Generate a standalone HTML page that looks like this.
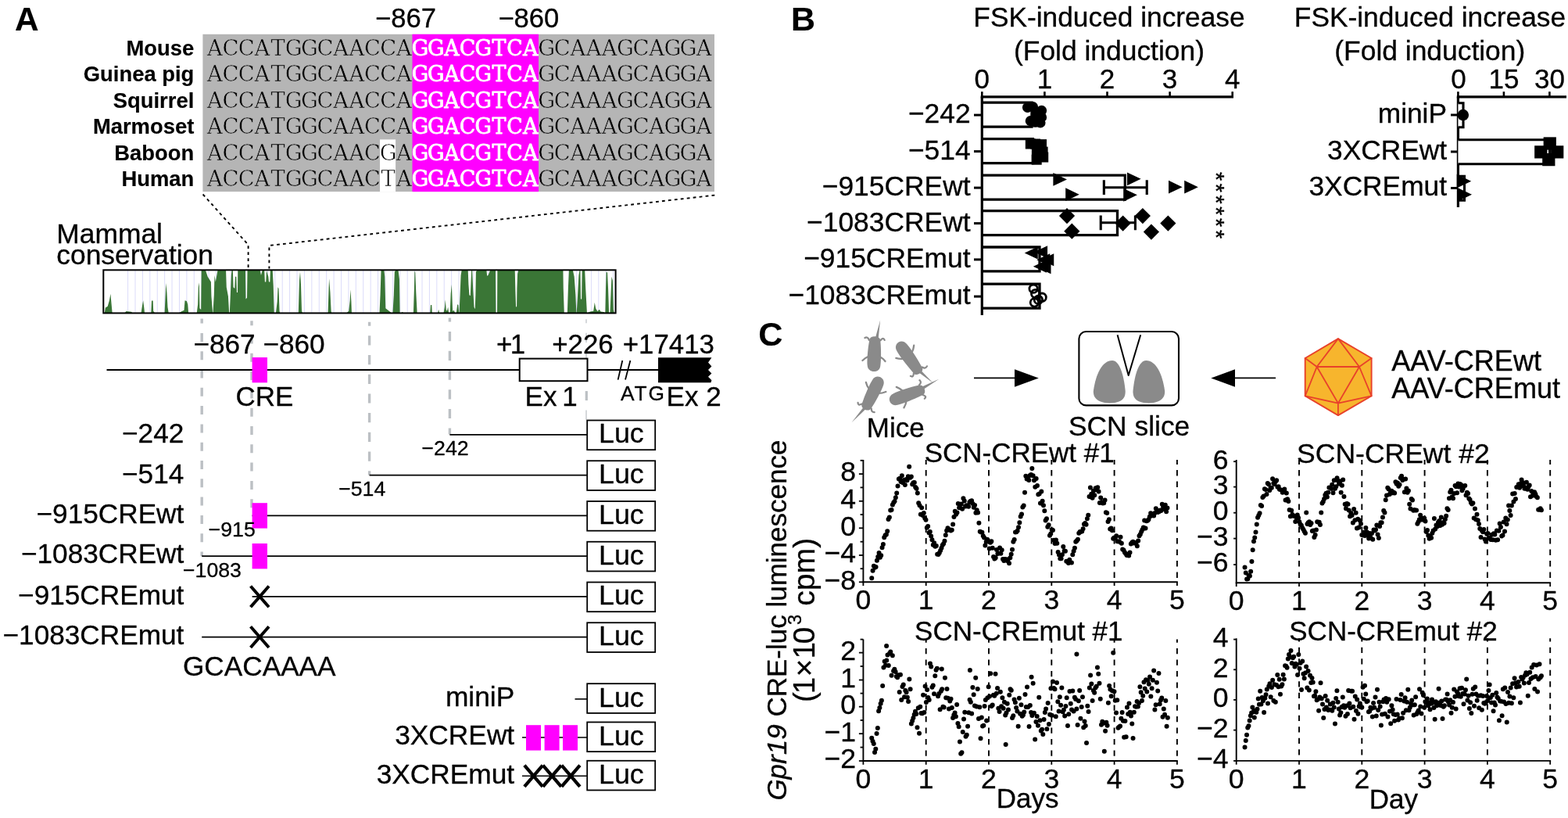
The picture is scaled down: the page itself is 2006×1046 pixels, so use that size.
<!DOCTYPE html>
<html lang="en">
<head>
<meta charset="utf-8">
<title>Gpr19 CRE figure</title>
<style>
html,body{margin:0;padding:0;background:#fff;}
body{width:2006px;height:1046px;overflow:hidden;}
svg{display:block;}
text{font-family:'Liberation Sans', sans-serif;fill:#000;stroke:#000;stroke-width:0.32px;stroke-linejoin:round;}
.b{font-weight:bold;stroke-width:0.15px;}
.i{font-style:italic;}
.m{font-family:'Liberation Mono', monospace;}
.sq text{font-family:'DejaVu Serif','Liberation Serif',serif;stroke:#b5b5b5;stroke-width:0.6px;}
.sq text.sqw{stroke:#fff;}
.sqb text{font-family:'DejaVu Serif','Liberation Serif',serif;fill:#fff;stroke:#fff;stroke-width:0.8px;}
</style>
</head>
<body>
<svg width="2006" height="1046" viewBox="0 0 2006 1046">
<rect width="2006" height="1046" fill="#fff"/>
<g id="panelA">
<text x="18.9" y="38.7" font-size="42.3" class="b">A</text>
<rect x="259.4" y="43.8" width="654.6" height="201.3" fill="#b5b5b5"/>
<rect x="527.5" y="43.8" width="161.5" height="201.3" fill="#ff00ff"/>
<rect x="486" y="178.4" width="20.1" height="66.7" fill="#fff"/>
<text x="480" y="35" font-size="34.6">−867</text>
<text x="637.4" y="35" font-size="34.6">−860</text>
<text x="248.3" y="70.9" font-size="27.4" text-anchor="end" class="b">Mouse</text>
<text x="248.3" y="104.37" font-size="27.4" text-anchor="end" class="b">Guinea pig</text>
<text x="248.3" y="137.84" font-size="27.4" text-anchor="end" class="b">Squirrel</text>
<text x="248.3" y="171.31" font-size="27.4" text-anchor="end" class="b">Marmoset</text>
<text x="248.3" y="204.78" font-size="27.4" text-anchor="end" class="b">Baboon</text>
<text x="248.3" y="238.25" font-size="27.4" text-anchor="end" class="b">Human</text>
<g transform="scale(1 1)" text-anchor="middle" font-size="27.4" class="sq"><text y="70.9" x="274.9 295.06 315.22 335.38 355.54 375.7 395.86 416.02 436.18 456.34 476.5 496.66 516.82">ACCATGGCAACCA</text><text y="70.9" x="699.08 719.24 739.4 759.56 779.72 799.88 820.04 840.2 860.36 880.52 900.68">GCAAAGCAGGA</text><text y="104.37" x="274.9 295.06 315.22 335.38 355.54 375.7 395.86 416.02 436.18 456.34 476.5 496.66 516.82">ACCATGGCAACCA</text><text y="104.37" x="699.08 719.24 739.4 759.56 779.72 799.88 820.04 840.2 860.36 880.52 900.68">GCAAAGCAGGA</text><text y="137.84" x="274.9 295.06 315.22 335.38 355.54 375.7 395.86 416.02 436.18 456.34 476.5 496.66 516.82">ACCATGGCAACCA</text><text y="137.84" x="699.08 719.24 739.4 759.56 779.72 799.88 820.04 840.2 860.36 880.52 900.68">GCAAAGCAGGA</text><text y="171.31" x="274.9 295.06 315.22 335.38 355.54 375.7 395.86 416.02 436.18 456.34 476.5 496.66 516.82">ACCATGGCAACCA</text><text y="171.31" x="699.08 719.24 739.4 759.56 779.72 799.88 820.04 840.2 860.36 880.52 900.68">GCAAAGCAGGA</text><text y="204.78" x="274.9 295.06 315.22 335.38 355.54 375.7 395.86 416.02 436.18 456.34 476.5">ACCATGGCAAC</text><text y="204.78" x="496.66" class="sqw">G</text><text y="204.78" x="516.82">A</text><text y="204.78" x="699.08 719.24 739.4 759.56 779.72 799.88 820.04 840.2 860.36 880.52 900.68">GCAAAGCAGGA</text><text y="238.25" x="274.9 295.06 315.22 335.38 355.54 375.7 395.86 416.02 436.18 456.34 476.5">ACCATGGCAAC</text><text y="238.25" x="496.66" class="sqw">T</text><text y="238.25" x="516.82">A</text><text y="238.25" x="699.08 719.24 739.4 759.56 779.72 799.88 820.04 840.2 860.36 880.52 900.68">GCAAAGCAGGA</text></g>
<g transform="scale(0.98 1)" text-anchor="middle" font-size="27.4" class="sqb"><text y="70.9" x="548.55 569.12 589.69 610.27 630.84 651.41 671.98 692.55">GGACGTCA</text><text y="104.37" x="548.55 569.12 589.69 610.27 630.84 651.41 671.98 692.55">GGACGTCA</text><text y="137.84" x="548.55 569.12 589.69 610.27 630.84 651.41 671.98 692.55">GGACGTCA</text><text y="171.31" x="548.55 569.12 589.69 610.27 630.84 651.41 671.98 692.55">GGACGTCA</text><text y="204.78" x="548.55 569.12 589.69 610.27 630.84 651.41 671.98 692.55">GGACGTCA</text><text y="238.25" x="548.55 569.12 589.69 610.27 630.84 651.41 671.98 692.55">GGACGTCA</text></g>
<path d="M259.6 248.5 L317.6 313 V343.5" fill="none" stroke="#000" stroke-width="1.9" stroke-dasharray="3.8 4.2"/>
<path d="M914.3 249.6 L344.4 314 V343.5" fill="none" stroke="#000" stroke-width="1.9" stroke-dasharray="3.8 4.2"/>
<text x="72.3" y="311" font-size="35.4">Mammal</text>
<text x="72.3" y="337.8" font-size="35.4">conservation</text>
<rect x="132.3" y="345.3" width="655.3" height="55.1" fill="#fff"/>
<path d="M163.6 345.3V400.4M173.01 345.3V400.4M182.42 345.3V400.4M191.83 345.3V400.4M201.24 345.3V400.4M210.65 345.3V400.4M220.06 345.3V400.4M229.47 345.3V400.4M238.88 345.3V400.4M248.29 345.3V400.4M257.7 345.3V400.4M267.11 345.3V400.4M276.52 345.3V400.4M285.93 345.3V400.4M295.34 345.3V400.4M304.75 345.3V400.4M314.16 345.3V400.4M323.57 345.3V400.4M332.98 345.3V400.4M342.39 345.3V400.4M351.8 345.3V400.4M361.21 345.3V400.4M370.62 345.3V400.4M380.03 345.3V400.4M389.44 345.3V400.4M398.85 345.3V400.4M408.26 345.3V400.4M417.67 345.3V400.4M427.08 345.3V400.4M436.49 345.3V400.4M445.9 345.3V400.4M455.31 345.3V400.4M464.72 345.3V400.4M474.13 345.3V400.4M483.54 345.3V400.4M492.95 345.3V400.4M502.36 345.3V400.4M511.77 345.3V400.4M521.18 345.3V400.4M530.59 345.3V400.4M540 345.3V400.4M549.41 345.3V400.4M558.82 345.3V400.4M568.23 345.3V400.4M577.64 345.3V400.4M587.05 345.3V400.4M596.46 345.3V400.4M605.87 345.3V400.4M615.28 345.3V400.4M624.69 345.3V400.4M634.1 345.3V400.4M643.51 345.3V400.4M652.92 345.3V400.4M662.33 345.3V400.4M671.74 345.3V400.4M681.15 345.3V400.4M690.56 345.3V400.4M699.97 345.3V400.4M709.38 345.3V400.4M718.79 345.3V400.4M728.2 345.3V400.4M737.61 345.3V400.4M747.02 345.3V400.4M756.43 345.3V400.4M765.84 345.3V400.4M775.25 345.3V400.4M784.66 345.3V400.4" stroke="#dcdcfa" stroke-width="1" fill="none"/>
<path d="M133.81 399.92L134.83 393.47L137.71 391.78L139.92 384.15L141.44 375.68L142.63 389.24L143.64 399.92ZM159.75 399.92L161.44 398.05L168.22 398.73L169.07 399.92ZM180.59 399.92L181.95 390.93L183.14 384.15L184.32 393.47L185 399.92ZM193.31 399.92L193.98 384.49L195.68 384.49L196.19 397.71L197.88 399.92ZM210.59 399.92L211.78 373.98L212.29 362.12L213.47 373.98L214.49 392.63L215.68 399.92ZM229.24 399.92L232.63 398.05L235.51 396.86L236.53 384.15L238.9 385L240.25 389.24L241.1 399.92ZM251.78 399.92L253.14 389.24L253.81 367.2L254.83 361.27L255.51 394.32L257.2 396.02L257.71 346.02L263.14 346.02L265.68 353.64L269.92 360.42L270.42 379.07L272.12 399.92ZM272.46 399.92L273.81 377.37L274.49 351.95L275.85 360.42L277.03 353.64L278.39 346.02L289.07 346.02L289.75 367.2L291.95 379.07L293.14 399.92ZM293.81 399.92L294.83 377.37L295.85 351.95L296.53 346.02L297.88 346.02L298.56 367.2L300.25 368.9L300.93 353.64L302.29 353.64L302.97 373.98L303.98 373.98L304.32 346.02L313.98 346.02L314.49 382.46L316.02 380.76L316.53 346.02L332.8 346.02L333.98 351.95L335.51 346.02L338.22 346.02L338.9 360.42L340.25 360.42L340.93 346.02L343.31 353.64L343.98 360.42L345.34 360.42L345.85 346.02L348.73 346.02L349.75 365.51L350.76 399.92ZM352.97 399.92L354.66 385.85L355.51 367.2L356.53 368.9L357.54 397.71L358.05 399.92ZM381.78 399.92L382.97 358.73L383.98 347.71L385 363.81L386.02 397.71L386.86 399.92ZM419.58 399.92L420.59 368.9L421.1 356.19L422.46 373.98L423.64 397.71L424.15 399.92ZM443.64 399.92L446.19 397.71L447.71 384.15L448.39 370.25L449.41 385.85L449.92 399.92ZM485.51 399.92L486.53 377.37L487.54 346.02L491.44 346.02L492.29 353.64L493.31 394.32L496.53 396.86L499.41 399.07L500.42 399.92ZM502.46 399.92L503.81 377.37L504.83 347.71L505.85 346.02L509.58 346.02L510.93 357.03L511.61 399.92ZM513.47 399.92L514.66 398.73L516.02 399.92ZM528.9 399.92L529.92 368.9L530.42 346.86L531.27 348.56L532.29 373.98L533.64 399.92ZM550.25 399.92L550.93 390.08L552.29 390.08L552.8 399.92ZM560.08 399.92L561.1 395.68L562.12 399.92ZM567.54 399.92L568.9 392.63L569.75 383.31L570.76 396.02L571.95 397.71L573.14 392.63L574.15 399.92ZM575.68 399.92L576.69 375.68L577.88 363.81L579.07 397.71L580.76 396.86L582.12 399.92ZM583.81 399.92L585.17 389.24L586.36 390.08L587.2 399.92ZM587.54 399.92L588.56 377.37L589.58 351.95L590.59 346.02L598.73 346.02L599.41 363.81L600.42 377.37L601.78 378.22L602.46 362.12L603.14 346.02L604.15 346.02L605.17 368.9L606.53 392.63L607.71 395.17L608.39 377.37L608.9 347.71L609.92 346.02L622.46 346.02L623.14 352.8L624.49 351.95L626.19 347.71L626.86 346.02L633.98 346.02L634.49 399.92L636.02 399.92L636.36 346.02L658.73 346.02L659.41 372.29L660.08 392.63L661.1 391.78L661.44 368.9L662.12 350.25L663.14 346.02L720.42 346.02L720.76 368.9L721.78 399.92ZM725.85 399.92L726.86 368.9L727.88 346.02L732.97 346.02L734.66 353.64L736.36 377.37L737.37 399.92ZM737.71 399.92L739.07 377.37L740.42 351.95L741.44 346.02L742.46 346.02L742.97 382.46L744.15 382.46L744.66 346.02L748.22 346.02L749.24 368.9L750.93 399.92ZM751.61 399.92L755 398.56L759.24 397.71L760.76 386.69L762.12 394.32L764.32 398.05L766.86 395.68L768.56 398.56L772.8 399.07L773.64 399.92ZM774.32 399.92L775 368.9L775.68 347.71L777.03 348.56L778.05 368.9L779.07 399.92ZM780.42 399.92L781.44 377.37L782.46 353.64L783.81 358.73L784.83 396.02L785.85 399.92Z" fill="#3a7636"/>
<rect x="132.3" y="345.3" width="655.3" height="55.1" fill="none" stroke="#000" stroke-width="2"/>
<line x1="258.2" y1="407.6" x2="258.2" y2="711" stroke="#bcc0c4" stroke-width="3.4" stroke-dasharray="11 12.3" stroke-dashoffset="5"/>
<line x1="322" y1="410.2" x2="322" y2="660" stroke="#bcc0c4" stroke-width="3.4" stroke-dasharray="11 12.3" stroke-dashoffset="5"/>
<line x1="472.6" y1="411.8" x2="472.6" y2="607.5" stroke="#bcc0c4" stroke-width="3.4" stroke-dasharray="12.2 12.5" stroke-dashoffset="7.2"/>
<line x1="575.4" y1="406.6" x2="575.4" y2="555.5" stroke="#bcc0c4" stroke-width="3.4" stroke-dasharray="12.2 12.5" stroke-dashoffset="7.2"/>
<line x1="750" y1="408.3" x2="750" y2="537" stroke="#c4c8cc" stroke-width="1.4" stroke-dasharray="12.2 12.5" stroke-dashoffset="7.2"/>
<line x1="750.3" y1="500.1" x2="750.3" y2="512.1" stroke="#bcc0c4" stroke-width="3.2"/>
<line x1="136.5" y1="473" x2="842" y2="473" stroke="#000" stroke-width="1.8"/>
<rect x="322.6" y="457" width="19.4" height="32.3" fill="#ff00ff"/>
<text x="247.4" y="451.5" font-size="35.2">−867</text>
<text x="336.4" y="451.5" font-size="35.2">−860</text>
<text x="301.5" y="518.8" font-size="35">CRE</text>
<text x="635" y="452" font-size="34.8">+<tspan dx="-2.5">1</tspan></text>
<text x="706.3" y="452" font-size="34.8">+226</text>
<text x="796.8" y="452" font-size="34.8">+17413</text>
<rect x="664.7" y="458.6" width="86.8" height="28.6" fill="#fff" stroke="#000" stroke-width="2"/>
<line x1="796.3" y1="461" x2="790.6" y2="485.6" stroke="#000" stroke-width="1.8"/>
<line x1="806.4" y1="461" x2="800" y2="485.6" stroke="#000" stroke-width="1.8"/>
<path d="M842 457.2H910.4L906 463.6L910.4 468.6L906 473L910.4 477.4L906 481.8L910.4 486.2L909.4 489.2H842Z" fill="#000"/>
<text x="671.6" y="518.8" font-size="35">Ex <tspan dx="-3">1</tspan></text>
<text x="794" y="511.9" font-size="26.3" letter-spacing="1.9">ATG</text>
<text x="852.6" y="518.8" font-size="35">Ex 2</text>
<text x="235.3" y="566.3" font-size="35.2" text-anchor="end">−242</text>
<line x1="575.4" y1="555.9" x2="751" y2="555.9" stroke="#000" stroke-width="1.7"/>
<rect x="751.2" y="537.5" width="87" height="37.7" fill="#fff" stroke="#000" stroke-width="1.8"/>
<text x="794.9" y="566.35" font-size="35.8" text-anchor="middle">Luc</text>
<text x="235.3" y="617.8" font-size="35.2" text-anchor="end">−514</text>
<line x1="472.6" y1="607.65" x2="751" y2="607.65" stroke="#000" stroke-width="1.7"/>
<rect x="751.2" y="589.25" width="87" height="37.7" fill="#fff" stroke="#000" stroke-width="1.8"/>
<text x="794.9" y="618.1" font-size="35.8" text-anchor="middle">Luc</text>
<text x="235.3" y="668.5" font-size="35.2" text-anchor="end">−915CREwt</text>
<line x1="322.6" y1="659.4" x2="751" y2="659.4" stroke="#000" stroke-width="1.7"/>
<rect x="751.2" y="641" width="87" height="37.7" fill="#fff" stroke="#000" stroke-width="1.8"/>
<text x="794.9" y="669.85" font-size="35.8" text-anchor="middle">Luc</text>
<rect x="322.6" y="643.2" width="19.4" height="32.4" fill="#ff00ff"/>
<text x="235.3" y="719.9" font-size="35.2" text-anchor="end">−1083CREwt</text>
<line x1="258.2" y1="711.15" x2="751" y2="711.15" stroke="#000" stroke-width="1.7"/>
<rect x="751.2" y="692.75" width="87" height="37.7" fill="#fff" stroke="#000" stroke-width="1.8"/>
<text x="794.9" y="721.6" font-size="35.8" text-anchor="middle">Luc</text>
<rect x="322.6" y="694.95" width="19.4" height="32.4" fill="#ff00ff"/>
<text x="235.3" y="773.1" font-size="35.2" text-anchor="end">−915CREmut</text>
<line x1="322.6" y1="762.9" x2="751" y2="762.9" stroke="#000" stroke-width="1.7"/>
<rect x="751.2" y="744.5" width="87" height="37.7" fill="#fff" stroke="#000" stroke-width="1.8"/>
<text x="794.9" y="773.35" font-size="35.8" text-anchor="middle">Luc</text>
<path d="M320.6 749.5 L344 776.3 M344 749.5 L320.6 776.3" stroke="#000" stroke-width="4" fill="none"/>
<text x="235.3" y="823.8" font-size="35.2" text-anchor="end">−1083CREmut</text>
<line x1="258.2" y1="814.65" x2="751" y2="814.65" stroke="#000" stroke-width="1.7"/>
<rect x="751.2" y="796.25" width="87" height="37.7" fill="#fff" stroke="#000" stroke-width="1.8"/>
<text x="794.9" y="825.1" font-size="35.8" text-anchor="middle">Luc</text>
<path d="M320.6 801.25 L344 828.05 M344 801.25 L320.6 828.05" stroke="#000" stroke-width="4" fill="none"/>
<text x="539.5" y="582.3" font-size="26.7">−242</text>
<text x="433.2" y="633.5" font-size="26.7">−514</text>
<text x="266.7" y="685.6" font-size="26.7">−915</text>
<text x="234" y="737.8" font-size="26.7">−1083</text>
<text x="234" y="863.8" font-size="35.2">GCACAAAA</text>
<text x="658.2" y="902.95" font-size="35.3" text-anchor="end">miniP</text>
<rect x="751.2" y="874.2" width="87" height="37.7" fill="#fff" stroke="#000" stroke-width="1.8"/>
<text x="794.9" y="903.85" font-size="35.8" text-anchor="middle">Luc</text>
<text x="658.2" y="952.2" font-size="35.3" text-anchor="end">3XCREwt</text>
<rect x="751.2" y="923.45" width="87" height="37.7" fill="#fff" stroke="#000" stroke-width="1.8"/>
<text x="794.9" y="953.1" font-size="35.8" text-anchor="middle">Luc</text>
<text x="658.2" y="1001.5" font-size="35.3" text-anchor="end">3XCREmut</text>
<rect x="751.2" y="972.75" width="87" height="37.7" fill="#fff" stroke="#000" stroke-width="1.8"/>
<text x="794.9" y="1002.4" font-size="35.8" text-anchor="middle">Luc</text>
<line x1="735.5" y1="893.9" x2="751" y2="893.9" stroke="#000" stroke-width="1.6"/>
<line x1="668" y1="943" x2="751" y2="943" stroke="#000" stroke-width="1.6"/>
<line x1="668" y1="992.2" x2="751" y2="992.2" stroke="#000" stroke-width="1.6"/>
<rect x="673" y="927.2" width="19" height="32.4" fill="#ff00ff"/>
<rect x="696.6" y="927.2" width="19" height="32.4" fill="#ff00ff"/>
<rect x="720" y="927.2" width="19" height="32.4" fill="#ff00ff"/>
<path d="M670.9 978.6 L694.3 1005.8 M694.3 978.6 L670.9 1005.8" stroke="#000" stroke-width="4.3" fill="none"/>
<path d="M694.6 978.6 L718 1005.8 M718 978.6 L694.6 1005.8" stroke="#000" stroke-width="4.3" fill="none"/>
<path d="M718.5 978.6 L741.9 1005.8 M741.9 978.6 L718.5 1005.8" stroke="#000" stroke-width="4.3" fill="none"/>
</g>
<g id="panelB">
<text x="1012.1" y="38.7" font-size="42.9" class="b">B</text>
<text x="1419" y="33.5" font-size="35.3" text-anchor="middle">FSK-induced increase</text>
<text x="1419" y="76.8" font-size="35.4" text-anchor="middle">(Fold induction)</text>
<text x="1256.3" y="112.6" font-size="35" text-anchor="middle">0</text>
<line x1="1256.3" y1="117.2" x2="1256.3" y2="123.8" stroke="#000" stroke-width="2.6"/>
<text x="1336.4" y="112.6" font-size="35" text-anchor="middle">1</text>
<line x1="1336.4" y1="117.2" x2="1336.4" y2="123.8" stroke="#000" stroke-width="2.6"/>
<text x="1416.5" y="112.6" font-size="35" text-anchor="middle">2</text>
<line x1="1416.5" y1="117.2" x2="1416.5" y2="123.8" stroke="#000" stroke-width="2.6"/>
<text x="1496.6" y="112.6" font-size="35" text-anchor="middle">3</text>
<line x1="1496.6" y1="117.2" x2="1496.6" y2="123.8" stroke="#000" stroke-width="2.6"/>
<text x="1576.7" y="112.6" font-size="35" text-anchor="middle">4</text>
<line x1="1576.7" y1="117.2" x2="1576.7" y2="123.8" stroke="#000" stroke-width="2.6"/>
<line x1="1254.7" y1="123.8" x2="1578" y2="123.8" stroke="#000" stroke-width="3.2"/>
<line x1="1256.3" y1="123.8" x2="1256.3" y2="403" stroke="#000" stroke-width="3.2"/>
<text x="1241.6" y="157" font-size="35.4" text-anchor="end">−242</text>
<line x1="1246" y1="147.1" x2="1256.3" y2="147.1" stroke="#000" stroke-width="3"/>
<path d="M1256.3 131.2H1320V162.1H1256.3" fill="none" stroke="#000" stroke-width="3.3"/>
<text x="1241.6" y="203.5" font-size="35.4" text-anchor="end">−514</text>
<line x1="1246" y1="193.6" x2="1256.3" y2="193.6" stroke="#000" stroke-width="3"/>
<path d="M1256.3 177.7H1321.5V208.6H1256.3" fill="none" stroke="#000" stroke-width="3.3"/>
<text x="1241.6" y="250" font-size="35.4" text-anchor="end">−915CREwt</text>
<line x1="1246" y1="240.1" x2="1256.3" y2="240.1" stroke="#000" stroke-width="3"/>
<path d="M1256.3 224.2H1439.3V255.1H1256.3" fill="none" stroke="#000" stroke-width="3.3"/>
<text x="1241.6" y="295.5" font-size="35.4" text-anchor="end">−1083CREwt</text>
<line x1="1246" y1="285.6" x2="1256.3" y2="285.6" stroke="#000" stroke-width="3"/>
<path d="M1256.3 269.7H1429.5V300.6H1256.3" fill="none" stroke="#000" stroke-width="3.3"/>
<text x="1241.6" y="341.8" font-size="35.4" text-anchor="end">−915CREmut</text>
<line x1="1246" y1="331.9" x2="1256.3" y2="331.9" stroke="#000" stroke-width="3"/>
<path d="M1256.3 316H1330V346.9H1256.3" fill="none" stroke="#000" stroke-width="3.3"/>
<text x="1241.6" y="389" font-size="35.4" text-anchor="end">−1083CREmut</text>
<line x1="1246" y1="379.1" x2="1256.3" y2="379.1" stroke="#000" stroke-width="3"/>
<path d="M1256.3 363.2H1330V394.1H1256.3" fill="none" stroke="#000" stroke-width="3.3"/>
<path d="M1412.33 239.7H1467.22M1412.33 230.3V249.1M1467.22 230.3V249.1" fill="none" stroke="#000" stroke-width="3.1"/>
<path d="M1408.23 284.8H1452.4M1408.23 275.4V294.2M1452.4 275.4V294.2" fill="none" stroke="#000" stroke-width="3.1"/>
<circle cx="1314.54" cy="137.32" r="6.6"/>
<circle cx="1321.48" cy="136.69" r="6.6"/>
<circle cx="1332.52" cy="141.42" r="6.6"/>
<circle cx="1332.52" cy="149.94" r="6.6"/>
<circle cx="1318.33" cy="154.67" r="6.6"/>
<circle cx="1324.64" cy="156.25" r="6.6"/>
<circle cx="1330.95" cy="156.88" r="6.6"/>
<circle cx="1325.27" cy="146.78" r="6.6"/>
<rect x="1311.83" y="177.51" width="13" height="13"/>
<rect x="1318.14" y="177.51" width="13" height="13"/>
<rect x="1326.02" y="178.14" width="13" height="13"/>
<rect x="1327.6" y="187.6" width="13" height="13"/>
<rect x="1321.29" y="193.91" width="13" height="13"/>
<rect x="1328.23" y="194.54" width="13" height="13"/>
<rect x="1319.71" y="197.7" width="13" height="13"/>
<rect x="1321.92" y="186.97" width="13" height="13"/>
<path d="M1347.38 221.03L1364.98 229.43L1347.38 237.83Z"/>
<path d="M1363.16 240.28L1380.76 248.68L1363.16 257.08Z"/>
<path d="M1442.02 220.4L1459.62 228.8L1442.02 237.2Z"/>
<path d="M1437.29 240.91L1454.89 249.31L1437.29 257.71Z"/>
<path d="M1495.02 230.81L1512.62 239.21L1495.02 247.61Z"/>
<path d="M1515.21 230.81L1532.81 239.21L1515.21 247.61Z"/>
<path d="M1365.02 266.02L1375.12 276.12L1365.02 286.22L1354.92 276.12Z"/>
<path d="M1371.32 285.58L1381.42 295.68L1371.32 305.78L1361.22 295.68Z"/>
<path d="M1436.62 275.48L1446.72 285.58L1436.62 295.68L1426.52 285.58Z"/>
<path d="M1461.86 266.02L1471.96 276.12L1461.86 286.22L1451.76 276.12Z"/>
<path d="M1472.9 286.52L1483 296.62L1472.9 306.72L1462.8 296.62Z"/>
<path d="M1494.35 275.48L1504.45 285.58L1494.35 295.68L1484.25 285.58Z"/>
<path d="M1327.77 315.44L1310.77 323.44L1327.77 331.44Z"/>
<path d="M1340.08 314.18L1323.08 322.18L1340.08 330.18Z"/>
<path d="M1343.23 324.27L1326.23 332.27L1343.23 340.27Z"/>
<path d="M1348.28 324.27L1331.28 332.27L1348.28 340.27Z"/>
<path d="M1338.82 332.79L1321.82 340.79L1338.82 348.79Z"/>
<path d="M1344.49 334.37L1327.49 342.37L1344.49 350.37Z"/>
<circle cx="1322.11" cy="369.18" r="5.2" fill="none" stroke="#000" stroke-width="2.8"/>
<circle cx="1324.64" cy="375.49" r="5.2" fill="none" stroke="#000" stroke-width="2.8"/>
<circle cx="1333.15" cy="380.22" r="5.2" fill="none" stroke="#000" stroke-width="2.8"/>
<circle cx="1323.38" cy="386.85" r="5.2" fill="none" stroke="#000" stroke-width="2.8"/>
<circle cx="1328.42" cy="383.38" r="5.2" fill="none" stroke="#000" stroke-width="2.8"/>
<text font-size="29.5" text-anchor="middle" transform="translate(1546.2 262.4) rotate(90)" textLength="85.5" lengthAdjust="spacing">******</text>
<text x="1829.5" y="33.5" font-size="35.3" text-anchor="middle">FSK-induced increase</text>
<text x="1829.3" y="76.8" font-size="35.4" text-anchor="middle">(Fold induction)</text>
<text x="1865.9" y="112.6" font-size="35" text-anchor="middle">0</text>
<line x1="1865.4" y1="117.2" x2="1865.4" y2="123.8" stroke="#000" stroke-width="2.6"/>
<text x="1923.9" y="112.6" font-size="35" text-anchor="middle">15</text>
<line x1="1923.9" y1="117.2" x2="1923.9" y2="123.8" stroke="#000" stroke-width="2.6"/>
<text x="1982.4" y="112.6" font-size="35" text-anchor="middle">30</text>
<line x1="1982.4" y1="117.2" x2="1982.4" y2="123.8" stroke="#000" stroke-width="2.6"/>
<line x1="1863.8" y1="123.8" x2="2004" y2="123.8" stroke="#000" stroke-width="3.2"/>
<line x1="1865.4" y1="123.8" x2="1865.4" y2="265" stroke="#000" stroke-width="3.2"/>
<text x="1851" y="156.6" font-size="35.3" text-anchor="end">miniP</text>
<line x1="1856" y1="147" x2="1865.4" y2="147" stroke="#000" stroke-width="3"/>
<path d="M1865.4 131.7H1872V162.8H1865.4" fill="#fff" stroke="#000" stroke-width="3.1"/>
<text x="1851" y="203.6" font-size="35.3" text-anchor="end">3XCREwt</text>
<line x1="1856" y1="194" x2="1865.4" y2="194" stroke="#000" stroke-width="3"/>
<path d="M1865.4 178.7H1982.5V209.8H1865.4" fill="#fff" stroke="#000" stroke-width="3.1"/>
<text x="1851" y="250.1" font-size="35.3" text-anchor="end">3XCREmut</text>
<line x1="1856" y1="240.5" x2="1865.4" y2="240.5" stroke="#000" stroke-width="3"/>
<path d="M1865.4 225.2H1873.5V256.3H1865.4" fill="#fff" stroke="#000" stroke-width="3.1"/>
<circle cx="1871.79" cy="147.08" r="7.26"/>
<rect x="1974.62" y="175.36" width="16.25" height="16.25"/>
<rect x="1963.15" y="186.26" width="16.25" height="16.25"/>
<rect x="1984.08" y="186.26" width="16.25" height="16.25"/>
<rect x="1973.18" y="196" width="16.25" height="16.25"/>
<path d="M1863.7 222.83L1882.18 231.65L1863.7 240.47Z"/>
<path d="M1864.56 240.03L1883.04 248.85L1864.56 257.67Z"/>
</g>
<g id="panelC">
<text x="970.3" y="441.6" font-size="43.2" class="b">C</text>
<g transform="translate(1118.5 453.2) rotate(2)" fill="#8a8a8a"><path d="M-6.81 -18.25C-6.64 -24.45 6.64 -24.45 7.14 -18.25C8.72 -6.97 9.13 9.3 8.3 14.41C7.47 24.41 -7.47 24.41 -8.3 14.41C-9.13 9.3 -8.72 -6.97 -6.81 -18.25Z"/><path d="M0.5 -20.75L6.1 -43.97L4.5 -20.75Z"/><path d="M-7.3 -18.25Q-9.3 -22.75 -12.8 -20.75M7.3 -18.25Q10.8 -22.75 12.5 -18.75M-7.3 2.79Q-11.3 4.65 -14.8 8.37M7.3 2.79Q11.3 4.65 14.3 8.37" fill="none" stroke="#8a8a8a" stroke-width="2.3" stroke-linecap="round"/></g>
<g transform="translate(1162.8 457.2) rotate(144.5)" fill="#8a8a8a"><path d="M-6.4 -20C-6.24 -26.2 6.24 -26.2 6.71 -20C8.19 -7.5 8.58 10 7.8 15.5C7.02 26.25 -7.02 26.25 -7.8 15.5C-8.58 10 -8.19 -7.5 -6.4 -20Z"/><path d="M-3 -22.5L-6.32 -44.35L1 -22.5Z"/><path d="M-6.8 -20Q-8.8 -24.5 -12.3 -22.5M6.8 -20Q10.3 -24.5 12 -20.5M-6.8 3Q-10.8 5 -14.3 9M6.8 3Q10.8 5 13.8 9" fill="none" stroke="#8a8a8a" stroke-width="2.3" stroke-linecap="round"/></g>
<g transform="translate(1116.7 502.6) rotate(205.5)" fill="#8a8a8a"><path d="M-6.4 -18.75C-6.24 -24.95 6.24 -24.95 6.71 -18.75C8.19 -7.12 8.58 9.5 7.8 14.72C7.02 24.94 -7.02 24.94 -7.8 14.72C-8.58 9.5 -8.19 -7.12 -6.4 -18.75Z"/><path d="M-1 -21.25L8.31 -45.66L3 -21.25Z"/><path d="M-6.8 -18.75Q-8.8 -23.25 -12.3 -21.25M6.8 -18.75Q10.3 -23.25 12 -19.25M-6.8 2.85Q-10.8 4.75 -14.3 8.55M6.8 2.85Q10.8 4.75 13.8 8.55" fill="none" stroke="#8a8a8a" stroke-width="2.3" stroke-linecap="round"/></g>
<g transform="translate(1160 505.3) rotate(70)" fill="#8a8a8a"><path d="M-6.4 -19.5C-6.24 -25.7 6.24 -25.7 6.71 -19.5C8.19 -7.35 8.58 9.8 7.8 15.19C7.02 25.73 -7.02 25.73 -7.8 15.19C-8.58 9.8 -8.19 -7.35 -6.4 -19.5Z"/><path d="M-3.5 -22L-5.18 -45.71L0.5 -22Z"/><path d="M-6.8 -19.5Q-8.8 -24 -12.3 -22M6.8 -19.5Q10.3 -24 12 -20M-6.8 2.94Q-10.8 4.9 -14.3 8.82M6.8 2.94Q10.8 4.9 13.8 8.82" fill="none" stroke="#8a8a8a" stroke-width="2.3" stroke-linecap="round"/></g>
<text x="1145.8" y="558.7" font-size="35" text-anchor="middle">Mice</text>
<line x1="1246" y1="483.4" x2="1300" y2="483.4" stroke="#000" stroke-width="1.6"/>
<path d="M1298 472.2L1328.8 483.4L1298 494.7Z"/>
<line x1="1579" y1="483.4" x2="1632" y2="483.4" stroke="#000" stroke-width="1.6"/>
<path d="M1580 472.2L1549.3 483.4L1580 494.7Z"/>
<rect x="1380.4" y="424" width="127.6" height="94.4" fill="#fff" stroke="#000" stroke-width="2.1" rx="9" ry="9"/>
<path d="M1429.6 428.3L1443.7 480L1459.2 428.3" fill="none" stroke="#000" stroke-width="2" stroke-linejoin="round"/>
<path d="M1423 461C1432.13 461 1437.61 479 1439.6 499C1440.6 509.4 1434.62 515.4 1419.3 515.4C1406.2 515.4 1397.56 509.4 1399 499C1401.88 479 1409.8 461 1423 461Z" fill="#8a8a8a"/>
<path d="M1466.2 461C1479.29 461 1487.14 479 1490 499C1491.43 509.4 1482.86 515.4 1469.8 515.4C1454.58 515.4 1448.6 509.4 1449.6 499C1451.59 479 1457.07 461 1466.2 461Z" fill="#8a8a8a"/>
<text x="1444.6" y="556.6" font-size="35.4" text-anchor="middle">SCN slice</text>
<path d="M1711.9 433.1L1754.6 458L1754.6 506.3L1711.9 531.1L1669.7 506.3L1669.7 458Z" fill="#f7b52d" stroke="#e8412a" stroke-width="1.9" stroke-linejoin="round"/>
<path d="M1711.9 433.1L1684.7 469M1711.9 433.1L1739 469M1684.7 469L1739 469M1669.7 458L1684.7 469M1754.6 458L1739 469M1684.7 469L1669.7 506.3M1739 469L1754.6 506.3M1684.7 469L1711.9 515.6M1739 469L1711.9 515.6M1669.7 506.3L1711.9 515.6M1754.6 506.3L1711.9 515.6M1711.9 515.6L1711.9 531.1" fill="none" stroke="#e8412a" stroke-width="1.8" stroke-linecap="round"/>
<text x="1780.2" y="473.8" font-size="36.1">AAV-CREwt</text>
<text x="1780.2" y="509.2" font-size="36.1">AAV-CREmut</text>
<text font-size="35" text-anchor="middle" transform="translate(1006.3 793.1) rotate(-90)"><tspan class="i">Gpr19</tspan> CRE-luc luminescence</text>
<text transform="translate(1042.3 898) rotate(-90)" font-size="38.6" text-anchor="middle"><tspan x="6.4 21.4 44 66.2 85.6">(1×10</tspan><tspan x="105.7" y="-17" font-size="23.6">3</tspan><tspan x="112.3" y="0" font-size="39.2" text-anchor="start"> cpm)</tspan></text>
<path d="M1184.7 588V744.3M1265 588V744.3M1345.3 588V744.3M1425.6 588V744.3M1505.9 588V744.3" stroke="#000" stroke-width="1.9" stroke-dasharray="7.4 7.1" stroke-dashoffset="1.4" fill="none"/>
<line x1="1104.4" y1="588" x2="1104.4" y2="745.2" stroke="#000" stroke-width="1.9"/>
<line x1="1103.5" y1="744.3" x2="1506.8" y2="744.3" stroke="#000" stroke-width="1.9"/>
<line x1="1104.4" y1="744.3" x2="1104.4" y2="749.1" stroke="#000" stroke-width="1.8"/>
<text x="1104.4" y="779.3" font-size="35.6" text-anchor="middle">0</text>
<line x1="1184.7" y1="744.3" x2="1184.7" y2="749.1" stroke="#000" stroke-width="1.8"/>
<text x="1184.7" y="779.3" font-size="35.6" text-anchor="middle">1</text>
<line x1="1265" y1="744.3" x2="1265" y2="749.1" stroke="#000" stroke-width="1.8"/>
<text x="1265" y="779.3" font-size="35.6" text-anchor="middle">2</text>
<line x1="1345.3" y1="744.3" x2="1345.3" y2="749.1" stroke="#000" stroke-width="1.8"/>
<text x="1345.3" y="779.3" font-size="35.6" text-anchor="middle">3</text>
<line x1="1425.6" y1="744.3" x2="1425.6" y2="749.1" stroke="#000" stroke-width="1.8"/>
<text x="1425.6" y="779.3" font-size="35.6" text-anchor="middle">4</text>
<line x1="1505.9" y1="744.3" x2="1505.9" y2="749.1" stroke="#000" stroke-width="1.8"/>
<text x="1505.9" y="779.3" font-size="35.6" text-anchor="middle">5</text>
<line x1="1098.9" y1="606.1" x2="1104.4" y2="606.1" stroke="#000" stroke-width="1.8"/>
<text x="1095.1" y="615.4" font-size="35.6" text-anchor="end">8</text>
<line x1="1098.9" y1="640.8" x2="1104.4" y2="640.8" stroke="#000" stroke-width="1.8"/>
<text x="1095.1" y="650.1" font-size="35.6" text-anchor="end">4</text>
<line x1="1098.9" y1="675.3" x2="1104.4" y2="675.3" stroke="#000" stroke-width="1.8"/>
<text x="1095.1" y="684.6" font-size="35.6" text-anchor="end">0</text>
<line x1="1098.9" y1="710" x2="1104.4" y2="710" stroke="#000" stroke-width="1.8"/>
<text x="1095.1" y="719.3" font-size="35.6" text-anchor="end">−4</text>
<line x1="1098.9" y1="744.3" x2="1104.4" y2="744.3" stroke="#000" stroke-width="1.8"/>
<text x="1095.1" y="753.6" font-size="35.6" text-anchor="end">−8</text>
<line x1="1100.6" y1="588.8" x2="1104.4" y2="588.8" stroke="#000" stroke-width="1.8"/>
<line x1="1100.6" y1="623.4" x2="1104.4" y2="623.4" stroke="#000" stroke-width="1.8"/>
<line x1="1100.6" y1="658" x2="1104.4" y2="658" stroke="#000" stroke-width="1.8"/>
<line x1="1100.6" y1="692.7" x2="1104.4" y2="692.7" stroke="#000" stroke-width="1.8"/>
<line x1="1100.6" y1="727.2" x2="1104.4" y2="727.2" stroke="#000" stroke-width="1.8"/>
<text x="1304.2" y="591" font-size="35" text-anchor="middle">SCN-CREwt #1</text>
<path d="M1115.24 739.27h0M1116.57 729.77h0M1117.9 723.85h0M1119.24 725.67h0M1120.57 724.97h0M1121.9 716.7h0M1123.23 711.91h0M1124.56 706.96h0M1125.89 712.68h0M1127.23 710.27h0M1128.56 700.19h0M1129.89 696.12h0M1131.22 687.36h0M1132.55 684.45h0M1133.88 683.48h0M1135.22 679.25h0M1136.55 663.94h0M1137.88 661.42h0M1139.21 652.61h0M1140.54 651.89h0M1141.88 645.39h0M1143.21 642.86h0M1144.54 640.91h0M1145.87 636.14h0M1147.2 630.5h0M1148.53 621.43h0M1149.87 612.42h0M1151.2 611.7h0M1152.53 616.1h0M1153.86 608.21h0M1155.19 617.25h0M1156.52 614.03h0M1157.86 619.97h0M1159.19 613.06h0M1160.52 614.35h0M1161.85 609.2h0M1163.18 596.84h0M1164.51 610.87h0M1165.85 609.47h0M1167.18 619.2h0M1168.51 617.28h0M1169.84 617.03h0M1171.17 623.12h0M1172.51 624.79h0M1173.84 630.61h0M1175.17 643.26h0M1176.5 646.17h0M1177.83 657.79h0M1179.16 649.23h0M1180.5 659.07h0M1181.83 655.93h0M1183.16 662.58h0M1184.49 664.87h0M1185.82 674.86h0M1187.15 673.1h0M1188.49 681.26h0M1189.82 680.06h0M1191.15 685.46h0M1192.48 690.29h0M1193.81 696.72h0M1195.14 694.17h0M1196.48 698.75h0M1197.81 697.97h0M1199.14 708.8h0M1200.47 708.9h0M1201.8 706.93h0M1203.14 704.06h0M1204.47 700.63h0M1205.8 697.04h0M1207.13 695.35h0M1208.46 691.69h0M1209.79 684.28h0M1211.13 678.43h0M1212.46 675.25h0M1213.79 677.35h0M1215.12 677.23h0M1216.45 678.39h0M1217.78 677.72h0M1219.12 670.5h0M1220.45 660.98h0M1221.78 653.75h0M1223.11 657.8h0M1224.44 655.54h0M1225.77 644.01h0M1227.11 649.14h0M1228.44 645.38h0M1229.77 644.61h0M1231.1 650.81h0M1232.43 637.26h0M1233.76 640.61h0M1235.1 647.38h0M1236.43 646.25h0M1237.76 646.99h0M1239.09 647.8h0M1240.42 642.12h0M1241.76 640.73h0M1243.09 640.29h0M1244.42 644.03h0M1245.75 648.65h0M1247.08 646.09h0M1248.41 655.8h0M1249.75 652.16h0M1251.08 655.45h0M1252.41 668.7h0M1253.74 679.81h0M1255.07 680.55h0M1256.4 680.66h0M1257.74 685.35h0M1259.07 687.38h0M1260.4 697.38h0M1261.73 692.89h0M1263.06 689.72h0M1264.39 691.83h0M1265.73 701.6h0M1267.06 693.87h0M1268.39 692.23h0M1269.72 700.81h0M1271.05 712.08h0M1272.39 714.55h0M1273.72 713.31h0M1275.05 703.09h0M1276.38 707.92h0M1277.71 707.78h0M1279.04 700.55h0M1280.38 707.7h0M1281.71 703.21h0M1283.04 715.06h0M1284.37 716.88h0M1285.7 715.12h0M1287.03 715.14h0M1288.37 716.92h0M1289.7 715.33h0M1291.03 720.18h0M1292.36 713.27h0M1293.69 708.76h0M1295.02 702.73h0M1296.36 692.69h0M1297.69 689.94h0M1299.02 680.46h0M1300.35 680.15h0M1301.68 678.79h0M1303.02 674.28h0M1304.35 668.26h0M1305.68 660.47h0M1307.01 657.58h0M1308.34 648.56h0M1309.67 646.53h0M1311.01 629.64h0M1312.34 608.65h0M1313.67 612.48h0M1315 612.42h0M1316.33 614.03h0M1317.66 608.04h0M1319 607.05h0M1320.33 599h0M1321.66 608.24h0M1322.99 614.36h0M1324.32 622.82h0M1325.65 611.93h0M1326.99 621.03h0M1328.32 632.24h0M1329.65 631.38h0M1330.98 643.41h0M1332.31 628.49h0M1333.65 640.67h0M1334.98 646.25h0M1336.31 653.26h0M1337.64 665.43h0M1338.97 663.16h0M1340.3 673.74h0M1341.64 671.3h0M1342.97 684.66h0M1344.3 682.58h0M1345.63 677.23h0M1346.96 678.08h0M1348.29 690.75h0M1349.63 694.88h0M1350.96 690.41h0M1352.29 694.81h0M1353.62 706.05h0M1354.95 709.58h0M1356.28 714.17h0M1357.62 714.31h0M1358.95 709.3h0M1360.28 699.12h0M1361.61 704.6h0M1362.94 704.8h0M1364.28 717.76h0M1365.61 718.18h0M1366.94 720.09h0M1368.27 715.79h0M1369.6 718.94h0M1370.93 719.45h0M1372.27 709.28h0M1373.6 704.69h0M1374.93 700.78h0M1376.26 692.87h0M1377.59 691.38h0M1378.92 689.74h0M1380.26 681.64h0M1381.59 679.97h0M1382.92 680.02h0M1384.25 679.5h0M1385.58 676.3h0M1386.91 670.3h0M1388.25 669.1h0M1389.58 670.75h0M1390.91 663.2h0M1392.24 658.77h0M1393.57 635.12h0M1394.91 623.62h0M1396.24 631.86h0M1397.57 636.86h0M1398.9 627.78h0M1400.23 633.21h0M1401.56 624.22h0M1402.9 626.03h0M1404.23 623.27h0M1405.56 628.47h0M1406.89 643.12h0M1408.22 636.49h0M1409.55 642.37h0M1410.89 643.5h0M1412.22 643.15h0M1413.55 639.59h0M1414.88 655.23h0M1416.21 655.97h0M1417.54 666.88h0M1418.88 664.19h0M1420.21 676.51h0M1421.54 675.43h0M1422.87 678.32h0M1424.2 688.67h0M1425.53 687.56h0M1426.87 687.89h0M1428.2 685.36h0M1429.53 692.3h0M1430.86 692.61h0M1432.19 692.66h0M1433.53 686.66h0M1434.86 694.81h0M1436.19 702.48h0M1437.52 703.47h0M1438.85 706.13h0M1440.18 708.06h0M1441.52 709.89h0M1442.85 708.7h0M1444.18 710.42h0M1445.51 706.54h0M1446.84 695.44h0M1448.17 693.74h0M1449.51 692.72h0M1450.84 694.45h0M1452.17 694.16h0M1453.5 693.82h0M1454.83 698.18h0M1456.16 691.46h0M1457.5 685.19h0M1458.83 683.29h0M1460.16 679.99h0M1461.49 677.31h0M1462.82 674.45h0M1464.16 665.55h0M1465.49 675.58h0M1466.82 666.17h0M1468.15 665.63h0M1469.48 664.25h0M1470.81 660.83h0M1472.15 656.28h0M1473.48 659.29h0M1474.81 659.27h0M1476.14 659.58h0M1477.47 655.96h0M1478.8 650.3h0M1480.14 653.54h0M1481.47 655.04h0M1482.8 654.24h0M1484.13 652.44h0M1485.46 652.91h0M1486.79 644.65h0M1488.13 648.16h0M1489.46 651.11h0M1490.79 645.74h0M1492.12 654.23h0M1493.45 649.61h0" stroke="#000" stroke-width="6" stroke-linecap="round" fill="none"/>
<path d="M1184.7 817.5V973M1265 817.5V973M1345.3 817.5V973M1425.6 817.5V973M1505.9 817.5V973" stroke="#000" stroke-width="1.9" stroke-dasharray="7.4 7.1" stroke-dashoffset="3.1" fill="none"/>
<line x1="1104.4" y1="817.5" x2="1104.4" y2="973.9" stroke="#000" stroke-width="1.9"/>
<line x1="1103.5" y1="973" x2="1506.8" y2="973" stroke="#000" stroke-width="1.9"/>
<line x1="1104.4" y1="973" x2="1104.4" y2="977.8" stroke="#000" stroke-width="1.8"/>
<text x="1104.4" y="1008" font-size="35.6" text-anchor="middle">0</text>
<line x1="1184.7" y1="973" x2="1184.7" y2="977.8" stroke="#000" stroke-width="1.8"/>
<text x="1184.7" y="1008" font-size="35.6" text-anchor="middle">1</text>
<line x1="1265" y1="973" x2="1265" y2="977.8" stroke="#000" stroke-width="1.8"/>
<text x="1265" y="1008" font-size="35.6" text-anchor="middle">2</text>
<line x1="1345.3" y1="973" x2="1345.3" y2="977.8" stroke="#000" stroke-width="1.8"/>
<text x="1345.3" y="1008" font-size="35.6" text-anchor="middle">3</text>
<line x1="1425.6" y1="973" x2="1425.6" y2="977.8" stroke="#000" stroke-width="1.8"/>
<text x="1425.6" y="1008" font-size="35.6" text-anchor="middle">4</text>
<line x1="1505.9" y1="973" x2="1505.9" y2="977.8" stroke="#000" stroke-width="1.8"/>
<text x="1505.9" y="1008" font-size="35.6" text-anchor="middle">5</text>
<line x1="1098.9" y1="834.6" x2="1104.4" y2="834.6" stroke="#000" stroke-width="1.8"/>
<text x="1095.1" y="843.9" font-size="35.6" text-anchor="end">2</text>
<line x1="1098.9" y1="869.5" x2="1104.4" y2="869.5" stroke="#000" stroke-width="1.8"/>
<text x="1095.1" y="878.8" font-size="35.6" text-anchor="end">1</text>
<line x1="1098.9" y1="903.7" x2="1104.4" y2="903.7" stroke="#000" stroke-width="1.8"/>
<text x="1095.1" y="913" font-size="35.6" text-anchor="end">0</text>
<line x1="1098.9" y1="938.2" x2="1104.4" y2="938.2" stroke="#000" stroke-width="1.8"/>
<text x="1095.1" y="947.5" font-size="35.6" text-anchor="end">−1</text>
<line x1="1098.9" y1="973" x2="1104.4" y2="973" stroke="#000" stroke-width="1.8"/>
<text x="1095.1" y="982.3" font-size="35.6" text-anchor="end">−2</text>
<line x1="1100.6" y1="817.6" x2="1104.4" y2="817.6" stroke="#000" stroke-width="1.8"/>
<line x1="1100.6" y1="852" x2="1104.4" y2="852" stroke="#000" stroke-width="1.8"/>
<line x1="1100.6" y1="886.6" x2="1104.4" y2="886.6" stroke="#000" stroke-width="1.8"/>
<line x1="1100.6" y1="921" x2="1104.4" y2="921" stroke="#000" stroke-width="1.8"/>
<line x1="1100.6" y1="955.6" x2="1104.4" y2="955.6" stroke="#000" stroke-width="1.8"/>
<text x="1303.3" y="819.1" font-size="35" text-anchor="middle">SCN-CREmut #1</text>
<text x="1314.6" y="1033.2" font-size="35" text-anchor="middle">Days</text>
<path d="M1115.24 943.85h0M1116.51 947.7h0M1117.77 950.99h0M1119.04 962.08h0M1120.31 957.78h0M1121.57 937.92h0M1122.84 930.99h0M1124.1 909.22h0M1125.37 905.1h0M1126.64 899.72h0M1127.9 895.63h0M1129.17 876.91h0M1130.44 853.42h0M1131.7 845.82h0M1132.97 850.64h0M1134.23 844.48h0M1135.5 837.48h0M1136.77 850.98h0M1138.03 835.58h0M1139.3 833.46h0M1140.57 863.76h0M1141.83 838.18h0M1143.1 857.97h0M1144.36 855.72h0M1145.63 859.06h0M1146.9 864.97h0M1148.16 866.28h0M1149.43 863.16h0M1150.7 884.94h0M1151.96 862.81h0M1153.23 895.03h0M1154.49 877.97h0M1155.76 875.46h0M1157.03 891.23h0M1158.29 883.11h0M1159.56 885.16h0M1160.83 891.77h0M1162.09 897.06h0M1163.36 868.49h0M1164.62 881.15h0M1165.89 925.47h0M1167.16 921.7h0M1168.42 918.12h0M1169.69 913.73h0M1170.96 909.64h0M1172.22 913.11h0M1173.49 930.16h0M1174.76 905.31h0M1176.02 937.73h0M1177.29 903.72h0M1178.55 911.95h0M1179.82 912.27h0M1181.09 888.64h0M1182.35 910.88h0M1183.62 877.52h0M1184.89 897.92h0M1186.15 881.89h0M1187.42 891.95h0M1188.68 895.09h0M1189.95 848.39h0M1191.22 852.39h0M1192.48 878.81h0M1193.75 876.38h0M1195.02 887.18h0M1196.28 864.17h0M1197.55 856.82h0M1198.81 854.68h0M1200.08 890.33h0M1201.35 886.9h0M1202.61 907.16h0M1203.88 883.63h0M1205.15 881.35h0M1206.41 903.8h0M1207.68 904.57h0M1208.94 866.86h0M1210.21 892.16h0M1211.48 880.97h0M1212.74 892.72h0M1214.01 906.42h0M1215.28 896.42h0M1216.54 893.65h0M1217.81 905.03h0M1219.07 918.03h0M1220.34 914.28h0M1221.61 911.48h0M1222.87 916.23h0M1224.14 900.93h0M1225.41 924.91h0M1226.67 929.22h0M1227.94 948.39h0M1229.2 963.81h0M1230.47 962.37h0M1231.74 935.94h0M1233 919.61h0M1234.27 910.8h0M1235.54 941.68h0M1236.8 939.87h0M1238.07 928.63h0M1239.33 911.28h0M1240.6 894.68h0M1241.87 897.73h0M1243.13 912.61h0M1244.4 878.94h0M1245.67 888.22h0M1246.93 902.52h0M1248.2 866.79h0M1249.47 903.52h0M1250.73 881.12h0M1252 918.96h0M1253.26 904.18h0M1254.53 944.37h0M1255.8 917.41h0M1257.06 928.44h0M1258.33 927.76h0M1259.6 903h0M1260.86 895.11h0M1262.13 921.54h0M1263.39 892.31h0M1264.66 878.37h0M1265.93 890.42h0M1267.19 861.22h0M1268.46 903.09h0M1269.73 901.55h0M1270.99 888.87h0M1272.26 889.75h0M1273.52 861.69h0M1274.79 886.71h0M1276.06 879.97h0M1277.32 905.77h0M1278.59 910.07h0M1279.86 884.82h0M1281.12 903.21h0M1282.39 892.15h0M1283.65 905.64h0M1284.92 897.87h0M1286.19 914.55h0M1287.45 911.55h0M1288.72 899.87h0M1289.99 907.58h0M1291.25 888.72h0M1292.52 881.33h0M1293.78 882.63h0M1295.05 918.03h0M1296.32 915.22h0M1297.58 894.61h0M1298.85 898.17h0M1300.12 905.12h0M1301.38 909.53h0M1302.65 928.75h0M1303.91 892.77h0M1305.18 912.63h0M1306.45 901.14h0M1307.71 915.71h0M1308.98 914.21h0M1310.25 910.54h0M1311.51 888h0M1312.78 904.07h0M1314.04 878.51h0M1315.31 904.05h0M1316.58 928.99h0M1317.84 901.89h0M1319.11 911.08h0M1320.38 915.07h0M1321.64 873.71h0M1322.91 911.81h0M1324.17 945.38h0M1325.44 922.96h0M1326.71 916.07h0M1327.97 927.68h0M1329.24 891.86h0M1330.51 921.33h0M1331.77 934.51h0M1333.04 932.75h0M1334.31 939.04h0M1335.57 920.04h0M1336.84 911.06h0M1338.1 906.48h0M1339.37 932.26h0M1340.64 898.98h0M1341.9 925.92h0M1343.17 913.77h0M1344.44 880.14h0M1345.7 914.69h0M1346.97 871.51h0M1348.23 879.94h0M1349.5 881.25h0M1350.77 916.14h0M1352.03 873.02h0M1353.3 897.24h0M1354.57 909.52h0M1355.83 891.34h0M1357.1 901.64h0M1358.36 879.44h0M1359.63 910.28h0M1360.9 907.83h0M1362.16 915.5h0M1363.43 903.06h0M1364.7 892.29h0M1365.96 928.02h0M1367.23 913.3h0M1368.49 884.08h0M1369.76 899.82h0M1371.03 907.48h0M1372.29 883.52h0M1373.56 909.62h0M1374.83 891.73h0M1376.09 894.03h0M1377.36 906.54h0M1378.62 926.93h0M1379.89 896.28h0M1381.16 882.88h0M1382.42 918.8h0M1383.69 904.07h0M1384.96 891.16h0M1386.22 930.21h0M1387.49 922.51h0M1388.75 928.09h0M1390.02 950.12h0M1391.29 902.65h0M1392.55 910.06h0M1393.82 879.51h0M1395.09 863.6h0M1396.35 874.49h0M1397.62 896.01h0M1398.88 882.99h0M1400.15 885.72h0M1401.42 879.56h0M1402.68 877.75h0M1403.95 853.49h0M1405.22 861.86h0M1406.48 873.77h0M1407.75 893.65h0M1409.01 926.78h0M1410.28 922.83h0M1411.55 924.82h0M1412.81 960.65h0M1414.08 934.68h0M1415.35 923.71h0M1416.61 927.72h0M1417.88 898.73h0M1419.15 876.97h0M1420.41 881.4h0M1421.68 890.33h0M1422.94 883.29h0M1424.21 834.7h0M1425.48 884.24h0M1426.74 895.69h0M1428.01 911.57h0M1429.28 895.15h0M1430.54 930.84h0M1431.81 929.39h0M1433.07 928.48h0M1434.34 918.75h0M1435.61 910.94h0M1436.87 921.73h0M1438.14 942.66h0M1439.41 921.96h0M1440.67 942.33h0M1441.94 904.54h0M1443.2 913.08h0M1444.47 899.61h0M1445.74 910.78h0M1447 915.58h0M1448.27 925.62h0M1449.54 943.95h0M1450.8 910.63h0M1452.07 903.36h0M1453.33 903.74h0M1454.6 897.07h0M1455.87 903.47h0M1457.13 898.89h0M1458.4 878.31h0M1459.67 885.29h0M1460.93 895.92h0M1462.2 889.83h0M1463.46 872.27h0M1464.73 880.48h0M1466 869.15h0M1467.26 884.39h0M1468.53 869.91h0M1469.8 874.72h0M1471.06 865.4h0M1472.33 890.62h0M1473.59 880.36h0M1474.86 869.75h0M1476.13 857.52h0M1477.39 907.59h0M1478.66 901.24h0M1479.93 872.87h0M1481.19 883.43h0M1482.46 861.09h0M1483.72 900.13h0M1484.99 895.16h0M1486.26 892.59h0M1487.52 916.7h0M1488.79 906.6h0M1490.06 913.75h0M1491.32 896.03h0M1492.59 928.85h0M1493.86 917.69h0M1377.42 836.43h0M1134.11 826.08h0M1204.78 855.4h0M1240.91 857.12h0M1286.68 952h0M1319.6 865.75h0" stroke="#000" stroke-width="6" stroke-linecap="round" fill="none"/>
<path d="M1662 588V745.3M1742.3 588V745.3M1822.6 588V745.3M1902.9 588V745.3M1983.2 588V745.3" stroke="#000" stroke-width="1.9" stroke-dasharray="7.4 7.1" stroke-dashoffset="1.4" fill="none"/>
<line x1="1581.7" y1="588" x2="1581.7" y2="746.2" stroke="#000" stroke-width="1.9"/>
<line x1="1580.8" y1="745.3" x2="1984.1" y2="745.3" stroke="#000" stroke-width="1.9"/>
<line x1="1581.7" y1="745.3" x2="1581.7" y2="750.1" stroke="#000" stroke-width="1.8"/>
<text x="1581.7" y="780.3" font-size="35.6" text-anchor="middle">0</text>
<line x1="1662" y1="745.3" x2="1662" y2="750.1" stroke="#000" stroke-width="1.8"/>
<text x="1662" y="780.3" font-size="35.6" text-anchor="middle">1</text>
<line x1="1742.3" y1="745.3" x2="1742.3" y2="750.1" stroke="#000" stroke-width="1.8"/>
<text x="1742.3" y="780.3" font-size="35.6" text-anchor="middle">2</text>
<line x1="1822.6" y1="745.3" x2="1822.6" y2="750.1" stroke="#000" stroke-width="1.8"/>
<text x="1822.6" y="780.3" font-size="35.6" text-anchor="middle">3</text>
<line x1="1902.9" y1="745.3" x2="1902.9" y2="750.1" stroke="#000" stroke-width="1.8"/>
<text x="1902.9" y="780.3" font-size="35.6" text-anchor="middle">4</text>
<line x1="1983.2" y1="745.3" x2="1983.2" y2="750.1" stroke="#000" stroke-width="1.8"/>
<text x="1983.2" y="780.3" font-size="35.6" text-anchor="middle">5</text>
<line x1="1578.1" y1="590.2" x2="1581.7" y2="590.2" stroke="#000" stroke-width="1.8"/>
<text x="1571.6" y="599.5" font-size="35.6" text-anchor="end">6</text>
<line x1="1578.1" y1="622.6" x2="1581.7" y2="622.6" stroke="#000" stroke-width="1.8"/>
<text x="1571.6" y="631.9" font-size="35.6" text-anchor="end">3</text>
<line x1="1578.1" y1="655.7" x2="1581.7" y2="655.7" stroke="#000" stroke-width="1.8"/>
<text x="1571.6" y="665" font-size="35.6" text-anchor="end">0</text>
<line x1="1578.1" y1="688.6" x2="1581.7" y2="688.6" stroke="#000" stroke-width="1.8"/>
<text x="1571.6" y="697.9" font-size="35.6" text-anchor="end">−3</text>
<line x1="1578.1" y1="722" x2="1581.7" y2="722" stroke="#000" stroke-width="1.8"/>
<text x="1571.6" y="731.3" font-size="35.6" text-anchor="end">−6</text>
<text x="1782.4" y="592" font-size="35.5" text-anchor="middle">SCN-CREwt #2</text>
<path d="M1592.54 725.4h0M1593.81 732.52h0M1595.08 740.38h0M1596.35 740.15h0M1597.62 735.93h0M1598.89 736.61h0M1600.15 730.74h0M1601.42 717.94h0M1602.69 703.14h0M1603.96 692.14h0M1605.23 687.49h0M1606.5 680.59h0M1607.77 670.41h0M1609.04 661.64h0M1610.31 659.12h0M1611.57 656.36h0M1612.84 646.04h0M1614.11 646.94h0M1615.38 636.02h0M1616.65 634.43h0M1617.92 625.2h0M1619.19 626.08h0M1620.46 632.08h0M1621.73 618.05h0M1623 619.33h0M1624.26 627.01h0M1625.53 623.83h0M1626.8 623.85h0M1628.07 612.26h0M1629.34 618.09h0M1630.61 619.05h0M1631.88 615.73h0M1633.15 614.22h0M1634.42 622.71h0M1635.68 622.19h0M1636.95 625.67h0M1638.22 626.14h0M1639.49 626.75h0M1640.76 629.63h0M1642.03 626.85h0M1643.3 625.5h0M1644.57 639.46h0M1645.84 630.57h0M1647.11 638.19h0M1648.37 641h0M1649.64 651.97h0M1650.91 660.24h0M1652.18 652.78h0M1653.45 658.05h0M1654.72 659.63h0M1655.99 659.63h0M1657.26 666.94h0M1658.53 661.68h0M1659.8 658.51h0M1661.06 662.18h0M1662.33 667.31h0M1663.6 670.56h0M1664.87 671.86h0M1666.14 674.88h0M1667.41 677.1h0M1668.68 679.62h0M1669.95 681.71h0M1671.22 655.57h0M1672.48 669.97h0M1673.75 668.13h0M1675.02 667.31h0M1676.29 670.97h0M1677.56 669.08h0M1678.83 679h0M1680.1 678.46h0M1681.37 686.94h0M1682.64 684.06h0M1683.91 677.54h0M1685.17 667.25h0M1686.44 667.66h0M1687.71 667.74h0M1688.98 671.02h0M1690.25 655.44h0M1691.52 643.42h0M1692.79 641.45h0M1694.06 637.97h0M1695.33 633.07h0M1696.59 630.83h0M1697.86 635.41h0M1699.13 629.86h0M1700.4 623.53h0M1701.67 623.74h0M1702.94 624.64h0M1704.21 619.83h0M1705.48 630.29h0M1706.75 614.36h0M1708.02 624.78h0M1709.28 622.13h0M1710.55 611.21h0M1711.82 614.73h0M1713.09 618.51h0M1714.36 615.38h0M1715.63 629.63h0M1716.9 620.73h0M1718.17 613.51h0M1719.44 634.96h0M1720.7 644.85h0M1721.97 650.19h0M1723.24 644.01h0M1724.51 644.82h0M1725.78 652.54h0M1727.05 660.36h0M1728.32 655.91h0M1729.59 659.08h0M1730.86 668.46h0M1732.13 651.11h0M1733.39 665.19h0M1734.66 655.84h0M1735.93 675.43h0M1737.2 663.66h0M1738.47 674.38h0M1739.74 665.49h0M1741.01 669.83h0M1742.28 683.9h0M1743.55 684.57h0M1744.82 680.7h0M1746.08 684.97h0M1747.35 674.91h0M1748.62 680.35h0M1749.89 684h0M1751.16 688.38h0M1752.43 682.01h0M1753.7 687.77h0M1754.97 681.95h0M1756.24 689.83h0M1757.5 677.55h0M1758.77 678.47h0M1760.04 677.16h0M1761.31 671.5h0M1762.58 683.43h0M1763.85 688.06h0M1765.12 672.93h0M1766.39 668.2h0M1767.66 668.21h0M1768.93 661.55h0M1770.19 652.96h0M1771.46 655.49h0M1772.73 639.21h0M1774 633.41h0M1775.27 623.67h0M1776.54 625.46h0M1777.81 632.01h0M1779.08 629.28h0M1780.35 627.68h0M1781.61 630.28h0M1782.88 629.41h0M1784.15 630.43h0M1785.42 616.15h0M1786.69 618.7h0M1787.96 617.49h0M1789.23 621.8h0M1790.5 619.83h0M1791.77 610.88h0M1793.04 608.87h0M1794.3 614.09h0M1795.57 612.82h0M1796.84 629.19h0M1798.11 612.58h0M1799.38 624.56h0M1800.65 629.75h0M1801.92 627.46h0M1803.19 644.83h0M1804.46 650.61h0M1805.72 637.95h0M1806.99 639.56h0M1808.26 652.83h0M1809.53 652.06h0M1810.8 652.52h0M1812.07 652.49h0M1813.34 669.68h0M1814.61 667.37h0M1815.88 664.27h0M1817.15 658.76h0M1818.41 664.45h0M1819.68 664.55h0M1820.95 662.83h0M1822.22 662.79h0M1823.49 666.41h0M1824.76 679.95h0M1826.03 678.04h0M1827.3 684.84h0M1828.57 688.76h0M1829.84 685.95h0M1831.1 687.74h0M1832.37 681.71h0M1833.64 678.46h0M1834.91 662.9h0M1836.18 676.44h0M1837.45 671.58h0M1838.72 673.37h0M1839.99 668.07h0M1841.26 666.06h0M1842.52 672h0M1843.79 661.62h0M1845.06 670.83h0M1846.33 668.08h0M1847.6 669.07h0M1848.87 664.07h0M1850.14 659.8h0M1851.41 650.2h0M1852.68 651.9h0M1853.95 637.28h0M1855.21 629.19h0M1856.48 626.74h0M1857.75 635.24h0M1859.02 637.37h0M1860.29 631.12h0M1861.56 621.02h0M1862.83 622.16h0M1864.1 630.3h0M1865.37 618.42h0M1866.63 622.57h0M1867.9 618.92h0M1869.17 620.04h0M1870.44 627.33h0M1871.71 624.73h0M1872.98 621.52h0M1874.25 620.92h0M1875.52 633.21h0M1876.79 629.7h0M1878.06 630.89h0M1879.32 637.52h0M1880.59 639.09h0M1881.86 642.7h0M1883.13 644.46h0M1884.4 643.29h0M1885.67 662.42h0M1886.94 650.39h0M1888.21 664.22h0M1889.48 657.71h0M1890.74 665.22h0M1892.01 669.95h0M1893.28 675.9h0M1894.55 687.03h0M1895.82 678.41h0M1897.09 680.25h0M1898.36 676.93h0M1899.63 689.48h0M1900.9 692.44h0M1902.17 682.83h0M1903.43 681.99h0M1904.7 687.97h0M1905.97 688.24h0M1907.24 690.04h0M1908.51 683.64h0M1909.78 690.25h0M1911.05 682.23h0M1912.32 683.62h0M1913.59 690.86h0M1914.86 678.46h0M1916.12 690.14h0M1917.39 678.7h0M1918.66 669.54h0M1919.93 673.95h0M1921.2 685.46h0M1922.47 684.4h0M1923.74 667.45h0M1925.01 679.43h0M1926.28 662.46h0M1927.54 670.27h0M1928.81 664.49h0M1930.08 646.46h0M1931.35 653.04h0M1932.62 658.91h0M1933.89 646.58h0M1935.16 631.47h0M1936.43 641.52h0M1937.7 630.9h0M1938.97 638.1h0M1940.23 623.06h0M1941.5 622.4h0M1942.77 619.23h0M1944.04 623.84h0M1945.31 618.48h0M1946.58 613.44h0M1947.85 616.71h0M1949.12 621.53h0M1950.39 624.72h0M1951.65 623.44h0M1952.92 616.82h0M1954.19 625.66h0M1955.46 622.58h0M1956.73 620.58h0M1958 635.13h0M1959.27 628.02h0M1960.54 633.75h0M1961.81 631.54h0M1963.08 629.24h0M1964.34 631.83h0M1965.61 635.02h0M1966.88 636.17h0M1968.15 651.82h0M1969.42 651.83h0M1970.69 650.31h0M1971.96 652.34h0" stroke="#000" stroke-width="6" stroke-linecap="round" fill="none"/>
<path d="M1662 816.3V972.9M1742.3 816.3V972.9M1822.6 816.3V972.9M1902.9 816.3V972.9M1983.2 816.3V972.9" stroke="#000" stroke-width="1.9" stroke-dasharray="7.4 7.1" stroke-dashoffset="3.1" fill="none"/>
<line x1="1581.7" y1="816.3" x2="1581.7" y2="973.8" stroke="#000" stroke-width="1.9"/>
<line x1="1580.8" y1="972.9" x2="1984.1" y2="972.9" stroke="#000" stroke-width="1.9"/>
<line x1="1581.7" y1="972.9" x2="1581.7" y2="977.7" stroke="#000" stroke-width="1.8"/>
<text x="1581.7" y="1007.9" font-size="35.6" text-anchor="middle">0</text>
<line x1="1662" y1="972.9" x2="1662" y2="977.7" stroke="#000" stroke-width="1.8"/>
<text x="1662" y="1007.9" font-size="35.6" text-anchor="middle">1</text>
<line x1="1742.3" y1="972.9" x2="1742.3" y2="977.7" stroke="#000" stroke-width="1.8"/>
<text x="1742.3" y="1007.9" font-size="35.6" text-anchor="middle">2</text>
<line x1="1822.6" y1="972.9" x2="1822.6" y2="977.7" stroke="#000" stroke-width="1.8"/>
<text x="1822.6" y="1007.9" font-size="35.6" text-anchor="middle">3</text>
<line x1="1902.9" y1="972.9" x2="1902.9" y2="977.7" stroke="#000" stroke-width="1.8"/>
<text x="1902.9" y="1007.9" font-size="35.6" text-anchor="middle">4</text>
<line x1="1983.2" y1="972.9" x2="1983.2" y2="977.7" stroke="#000" stroke-width="1.8"/>
<text x="1983.2" y="1007.9" font-size="35.6" text-anchor="middle">5</text>
<line x1="1578.1" y1="817.6" x2="1581.7" y2="817.6" stroke="#000" stroke-width="1.8"/>
<text x="1571.6" y="826.9" font-size="35.6" text-anchor="end">4</text>
<line x1="1578.1" y1="856.3" x2="1581.7" y2="856.3" stroke="#000" stroke-width="1.8"/>
<text x="1571.6" y="865.6" font-size="35.6" text-anchor="end">2</text>
<line x1="1578.1" y1="894.9" x2="1581.7" y2="894.9" stroke="#000" stroke-width="1.8"/>
<text x="1571.6" y="904.2" font-size="35.6" text-anchor="end">0</text>
<line x1="1578.1" y1="933.6" x2="1581.7" y2="933.6" stroke="#000" stroke-width="1.8"/>
<text x="1571.6" y="942.9" font-size="35.6" text-anchor="end">−2</text>
<line x1="1578.1" y1="972.9" x2="1581.7" y2="972.9" stroke="#000" stroke-width="1.8"/>
<text x="1571.6" y="982.2" font-size="35.6" text-anchor="end">−4</text>
<text x="1782.5" y="819.4" font-size="35" text-anchor="middle">SCN-CREmut #2</text>
<text x="1782.8" y="1033.6" font-size="35" text-anchor="middle">Day</text>
<path d="M1592.54 955.49h0M1593.77 947.07h0M1595 939.73h0M1596.22 930.61h0M1597.45 928.35h0M1598.68 921.45h0M1599.91 915.16h0M1601.14 911.62h0M1602.36 904.49h0M1603.59 910.09h0M1604.82 917.42h0M1606.05 908.78h0M1607.28 910.73h0M1608.5 906.84h0M1609.73 893.4h0M1610.96 900.73h0M1612.19 883.82h0M1613.41 900.56h0M1614.64 892.09h0M1615.87 896.2h0M1617.1 910.9h0M1618.33 892.66h0M1619.55 888.26h0M1620.78 881.45h0M1622.01 899.42h0M1623.24 877.58h0M1624.47 874.19h0M1625.69 891.15h0M1626.92 878.88h0M1628.15 869.67h0M1629.38 895.98h0M1630.61 875.15h0M1631.83 897.65h0M1633.06 875.99h0M1634.29 863.06h0M1635.52 878.23h0M1636.74 868.74h0M1637.97 887.79h0M1639.2 877.58h0M1640.43 875.22h0M1641.66 862.75h0M1642.88 868.5h0M1644.11 851.19h0M1645.34 851.68h0M1646.57 853.83h0M1647.8 842.38h0M1649.02 837.03h0M1650.25 840h0M1651.48 831.93h0M1652.71 848.12h0M1653.93 841.21h0M1655.16 839.86h0M1656.39 852.56h0M1657.62 848.85h0M1658.85 849.76h0M1660.07 863.11h0M1661.3 836.94h0M1662.53 854.76h0M1663.76 847.87h0M1664.99 881.99h0M1666.21 845.4h0M1667.44 861.73h0M1668.67 867.18h0M1669.9 860.51h0M1671.13 852.49h0M1672.35 879.38h0M1673.58 858.03h0M1674.81 882.54h0M1676.04 863.7h0M1677.26 873.03h0M1678.49 866.88h0M1679.72 872.62h0M1680.95 890.31h0M1682.18 889.57h0M1683.4 884.22h0M1684.63 895.21h0M1685.86 894.13h0M1687.09 908.78h0M1688.32 891.43h0M1689.54 873.16h0M1690.77 893.17h0M1692 900.46h0M1693.23 918.09h0M1694.46 906.98h0M1695.68 890.05h0M1696.91 904.55h0M1698.14 895.86h0M1699.37 907.94h0M1700.59 907.61h0M1701.82 900.48h0M1703.05 907.84h0M1704.28 908.86h0M1705.51 898.75h0M1706.73 904.59h0M1707.96 925.39h0M1709.19 892.96h0M1710.42 883.19h0M1711.65 897.8h0M1712.87 906.58h0M1714.1 914.58h0M1715.33 911.13h0M1716.56 904.02h0M1717.79 891.41h0M1719.01 902.24h0M1720.24 904.83h0M1721.47 915.7h0M1722.7 902.45h0M1723.92 913.07h0M1725.15 883.01h0M1726.38 899.6h0M1727.61 905.16h0M1728.84 883.7h0M1730.06 883.8h0M1731.29 903.82h0M1732.52 919.68h0M1733.75 890.56h0M1734.98 909.08h0M1736.2 894.43h0M1737.43 912.65h0M1738.66 903.16h0M1739.89 899.43h0M1741.11 904.29h0M1742.34 904.58h0M1743.57 878.72h0M1744.8 893.84h0M1746.03 876.72h0M1747.25 887.6h0M1748.48 897.19h0M1749.71 896.45h0M1750.94 910.21h0M1752.17 909.54h0M1753.39 904.82h0M1754.62 905.91h0M1755.85 916.44h0M1757.08 899.08h0M1758.31 904.84h0M1759.53 891.47h0M1760.76 915.47h0M1761.99 881.82h0M1763.22 907.95h0M1764.44 897.72h0M1765.67 903.62h0M1766.9 927.42h0M1768.13 913.48h0M1769.36 897.19h0M1770.58 894.49h0M1771.81 912.73h0M1773.04 893.02h0M1774.27 897.63h0M1775.5 916.53h0M1776.72 894.22h0M1777.95 909.55h0M1779.18 925.24h0M1780.41 902.25h0M1781.64 907.61h0M1782.86 913.27h0M1784.09 921.86h0M1785.32 913.9h0M1786.55 894.11h0M1787.77 913.51h0M1789 920.4h0M1790.23 918.58h0M1791.46 894.91h0M1792.69 887.95h0M1793.91 918.35h0M1795.14 911.82h0M1796.37 896.38h0M1797.6 892.24h0M1798.83 908.3h0M1800.05 897.7h0M1801.28 881.87h0M1802.51 908.13h0M1803.74 904.77h0M1804.97 899.63h0M1806.19 895.41h0M1807.42 901.25h0M1808.65 914.43h0M1809.88 901.3h0M1811.1 891.14h0M1812.33 912.96h0M1813.56 910.86h0M1814.79 908.44h0M1816.02 881.18h0M1817.24 903.38h0M1818.47 912.43h0M1819.7 885.83h0M1820.93 889.08h0M1822.16 904.67h0M1823.38 897.29h0M1824.61 898.69h0M1825.84 893.59h0M1827.07 902.18h0M1828.3 898.38h0M1829.52 907.28h0M1830.75 899.69h0M1831.98 894.49h0M1833.21 898.84h0M1834.43 904.98h0M1835.66 919.76h0M1836.89 897.28h0M1838.12 902.13h0M1839.35 900.95h0M1840.57 880.74h0M1841.8 898.61h0M1843.03 902.08h0M1844.26 896.49h0M1845.49 919.11h0M1846.71 903.67h0M1847.94 902.21h0M1849.17 894.49h0M1850.4 894.57h0M1851.62 887.59h0M1852.85 897.15h0M1854.08 901.58h0M1855.31 895.36h0M1856.54 911.79h0M1857.76 904.79h0M1858.99 898.09h0M1860.22 881.46h0M1861.45 890.84h0M1862.68 906.62h0M1863.9 884.4h0M1865.13 886.81h0M1866.36 890.13h0M1867.59 880.18h0M1868.82 890.75h0M1870.04 879.74h0M1871.27 886.95h0M1872.5 900.3h0M1873.73 887.57h0M1874.95 882.19h0M1876.18 868.46h0M1877.41 895.4h0M1878.64 889.65h0M1879.87 905.98h0M1881.09 898.3h0M1882.32 911.98h0M1883.55 887.78h0M1884.78 880.81h0M1886.01 902.82h0M1887.23 878.46h0M1888.46 887.4h0M1889.69 895.71h0M1890.92 889.76h0M1892.15 905.22h0M1893.37 889.51h0M1894.6 889.35h0M1895.83 907.72h0M1897.06 890.02h0M1898.28 898.99h0M1899.51 899.7h0M1900.74 898.37h0M1901.97 890.09h0M1903.2 895.91h0M1904.42 883.02h0M1905.65 875.6h0M1906.88 892.05h0M1908.11 898.47h0M1909.34 888.85h0M1910.56 909.31h0M1911.79 898.6h0M1913.02 901.62h0M1914.25 885.91h0M1915.48 891.49h0M1916.7 892.99h0M1917.93 921.24h0M1919.16 896.53h0M1920.39 896.83h0M1921.61 915.36h0M1922.84 881.26h0M1924.07 897.6h0M1925.3 879.42h0M1926.53 900.04h0M1927.75 923.39h0M1928.98 885.05h0M1930.21 898.69h0M1931.44 890.45h0M1932.67 879.59h0M1933.89 899.36h0M1935.12 874.37h0M1936.35 892.15h0M1937.58 867.32h0M1938.81 873.14h0M1940.03 878.52h0M1941.26 878.07h0M1942.49 872h0M1943.72 877.66h0M1944.94 898.48h0M1946.17 865.89h0M1947.4 868.4h0M1948.63 866.52h0M1949.86 873.59h0M1951.08 863.56h0M1952.31 860.36h0M1953.54 862.2h0M1954.77 889.65h0M1956 873.09h0M1957.22 859.84h0M1958.45 868h0M1959.68 853.59h0M1960.91 866.18h0M1962.13 850.11h0M1963.36 881.01h0M1964.59 865.09h0M1965.82 850.56h0M1967.05 884.4h0M1968.27 868.57h0M1969.5 849.29h0M1970.73 866.28h0M1971.96 864.32h0" stroke="#000" stroke-width="6" stroke-linecap="round" fill="none"/>
</g>
</svg>
</body>
</html>
